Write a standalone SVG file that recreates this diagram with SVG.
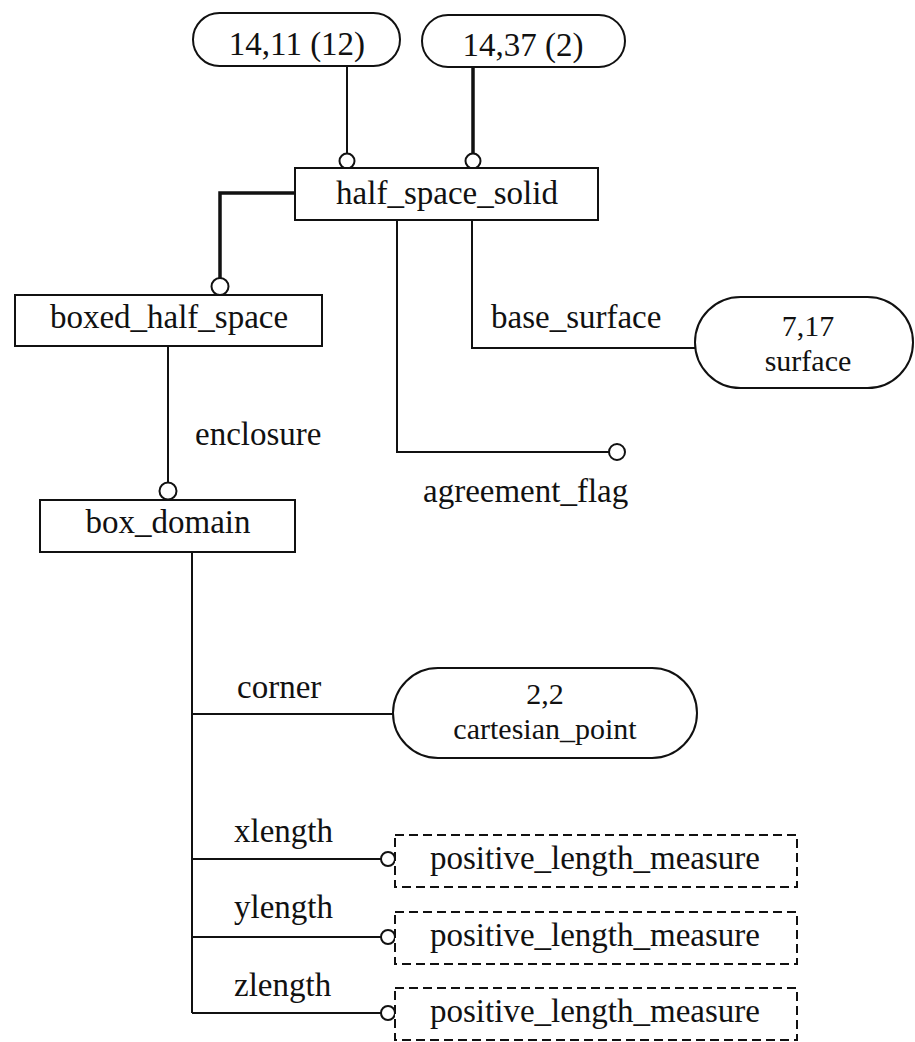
<svg xmlns="http://www.w3.org/2000/svg" width="915" height="1042" viewBox="0 0 915 1042">
<style>
text{font-family:"Liberation Serif","Times New Roman",serif;font-size:33px;fill:#111}
.c{text-anchor:middle}
.two{font-size:30px}
.box{fill:#fff;stroke:#111;stroke-width:2}
.dash{fill:#fff;stroke:#111;stroke-width:2;stroke-dasharray:9 5}
.ln{fill:none;stroke:#111;stroke-width:2}
.thick{fill:none;stroke:#111;stroke-width:3.5}
.circ{fill:#fff;stroke:#111;stroke-width:2}
</style>
<rect width="915" height="1042" fill="#fff"/>
<g id="connectors">
<line class="ln" x1="347" y1="66" x2="347" y2="154"/>
<circle class="circ" cx="347" cy="161" r="7.5"/>
<line class="thick" x1="473" y1="67" x2="473" y2="154"/>
<circle class="circ" cx="473" cy="161" r="7.5"/>
<polyline class="thick" points="295,193 220,193 220,278"/>
<circle class="circ" cx="220" cy="286.5" r="8.5"/>
<line class="ln" x1="168" y1="346" x2="168" y2="482"/>
<circle class="circ" cx="168" cy="491" r="8.5"/>
<polyline class="ln" points="397,220 397,452 609,452"/>
<circle class="circ" cx="617" cy="452" r="8"/>
<polyline class="ln" points="472,220 472,348 695,348"/>
<line class="ln" x1="192" y1="552" x2="192" y2="1013"/>
<line class="ln" x1="192" y1="714" x2="393" y2="714"/>
<line class="ln" x1="192" y1="859" x2="381" y2="859"/>
<circle class="circ" cx="388" cy="859" r="7"/>
<line class="ln" x1="192" y1="937" x2="381" y2="937"/>
<circle class="circ" cx="388" cy="937" r="7"/>
<line class="ln" x1="192" y1="1013" x2="381" y2="1013"/>
<circle class="circ" cx="388" cy="1013" r="7"/>
<text x="195" y="445">enclosure</text>
<text x="423" y="502">agreement_flag</text>
<text x="491" y="328">base_surface</text>
<text x="237" y="698">corner</text>
<text x="234" y="842">xlength</text>
<text x="234" y="918">ylength</text>
<text x="234" y="996">zlength</text>
</g>
<g id="ref_14_11">
<rect class="box" x="193" y="13" width="207" height="53" rx="26.5"/>
<text class="c" x="297" y="55">14,11 (12)</text>
</g>
<g id="ref_14_37">
<rect class="box" x="422" y="15" width="203" height="52" rx="26"/>
<text class="c" x="523" y="56">14,37 (2)</text>
</g>
<g id="half_space_solid">
<rect class="box" x="295" y="168" width="303" height="52"/>
<text class="c" x="447" y="204">half_space_solid</text>
</g>
<g id="boxed_half_space">
<rect class="box" x="15" y="295" width="307" height="51"/>
<text class="c" x="169" y="328">boxed_half_space</text>
</g>
<g id="box_domain">
<rect class="box" x="40" y="500" width="255" height="52"/>
<text class="c" x="168" y="533">box_domain</text>
</g>
<g id="surface">
<rect class="box" x="695" y="297" width="218" height="91" rx="45.5"/>
<text class="c two" x="808" y="336">7,17</text>
<text class="c two" x="808" y="371">surface</text>
</g>
<g id="cartesian_point">
<rect class="box" x="393" y="668" width="304" height="90" rx="45"/>
<text class="c two" x="545" y="704">2,2</text>
<text class="c two" x="545" y="739">cartesian_point</text>
</g>
<g id="plm_x">
<rect class="dash" x="395" y="835" width="402" height="52"/>
<text class="c" x="595" y="869">positive_length_measure</text>
</g>
<g id="plm_y">
<rect class="dash" x="395" y="912" width="402" height="52"/>
<text class="c" x="595" y="946">positive_length_measure</text>
</g>
<g id="plm_z">
<rect class="dash" x="395" y="988" width="402" height="52"/>
<text class="c" x="595" y="1022">positive_length_measure</text>
</g>
</svg>
